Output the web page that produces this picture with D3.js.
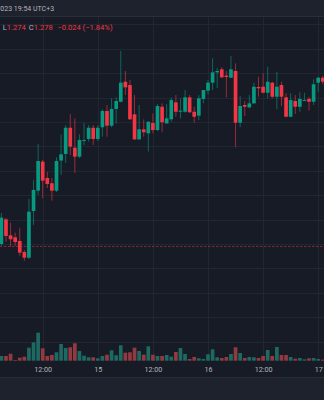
<!DOCTYPE html>
<html>
<head>
<meta charset="utf-8">
<script src="https://cdn.jsdelivr.net/npm/d3@7"></script>
<style>
  html, body { margin: 0; padding: 0; background: #1e222d; overflow: hidden; }
  svg { display: block; font-family: Roboto, "Noto Sans", sans-serif; }
</style>
</head>
<body>
<svg id="chart" width="324" height="400"></svg>
<script>
// Hourly candles, hour offset from 14 Dec 2023 00:00 (UTC+3)
const hourIndex = [3,4,5,6,7,8,9,10,11,12,13,14,15,16,17,18,19,20,21,22,23,24,25,26,27,28,29,30,31,32,33,34,35,36,37,38,39,40,41,42,43,44,45,46,47,48,49,50,51,52,53,54,55,56,57,58,59,60,61,62,63,64,65,66,67,68,69,70,71,72,73];

const open = [1.2800,1.3002,1.2871,1.2855,1.2825,1.2734,1.2688,1.3070,1.3237,1.3475,1.3341,1.3298,1.3237,1.3484,1.3538,1.3753,1.3589,1.3516,1.3644,1.3661,1.3753,1.3661,1.3757,1.3890,1.3770,1.3907,1.3966,1.4130,1.4103,1.3863,1.3658,1.3740,1.3707,1.3792,1.3734,1.3925,1.3789,1.3822,1.3961,1.3884,1.3884,1.4002,1.3884,1.3852,1.3989,1.4057,1.4122,1.4207,1.4232,1.4180,1.4163,1.4218,1.3794,1.3939,1.3920,1.3953,1.4087,1.4089,1.4040,1.4122,1.4007,1.4103,1.4002,1.3843,1.3972,1.3925,1.3975,1.3989,1.3966,1.4122,1.4163];
const high = [1.3054,1.3013,1.2975,1.2893,1.2929,1.2751,1.3169,1.3325,1.3620,1.3489,1.3390,1.3341,1.3511,1.3699,1.3775,1.3866,1.3830,1.3699,1.3792,1.3775,1.3775,1.3775,1.3907,1.3939,1.3994,1.4002,1.4382,1.4218,1.4144,1.4021,1.3939,1.3822,1.3808,1.3871,1.3948,1.3953,1.3948,1.4002,1.4021,1.3994,1.4062,1.4021,1.3925,1.4021,1.4038,1.4144,1.4322,1.4243,1.4248,1.4218,1.4341,1.4281,1.4013,1.3972,1.4021,1.4122,1.4171,1.4199,1.4253,1.4130,1.4212,1.4130,1.4035,1.4035,1.4021,1.4043,1.4040,1.4007,1.4150,1.4171,1.4177];
const low = [1.2784,1.2819,1.2778,1.2784,1.2704,1.2663,1.2677,1.2956,1.3202,1.3175,1.3259,1.3155,1.3226,1.3366,1.3464,1.3530,1.3384,1.3505,1.3611,1.3639,1.3611,1.3644,1.3680,1.3680,1.3757,1.3789,1.3961,1.4021,1.3816,1.3652,1.3652,1.3680,1.3557,1.3707,1.3726,1.3720,1.3784,1.3802,1.3843,1.3830,1.3876,1.3874,1.3794,1.3816,1.3953,1.4027,1.4062,1.4079,1.4161,1.4002,1.4161,1.3593,1.3757,1.3849,1.3912,1.3948,1.4007,1.4035,1.3994,1.3994,1.3904,1.3931,1.3839,1.3839,1.3866,1.3884,1.3972,1.3893,1.3939,1.4048,1.4109];
const close = [1.3016,1.2866,1.2839,1.2816,1.2729,1.2688,1.3065,1.3243,1.3480,1.3319,1.3292,1.3237,1.3480,1.3535,1.3753,1.3598,1.3516,1.3652,1.3652,1.3753,1.3661,1.3753,1.3890,1.3770,1.3907,1.3972,1.4122,1.4084,1.3822,1.3658,1.3740,1.3716,1.3802,1.3734,1.3931,1.3798,1.3830,1.3980,1.3884,1.3893,1.4002,1.3880,1.3843,1.3994,1.4062,1.4122,1.4207,1.4218,1.4166,1.4169,1.4232,1.3794,1.3931,1.3925,1.3953,1.4089,1.4076,1.4040,1.4130,1.4007,1.4089,1.4007,1.3843,1.3980,1.3925,1.3989,1.3980,1.3966,1.4109,1.4163,1.4130];
// Volume, thousands
const volume = [47,47,70,7,30,40,130,184,280,124,47,57,84,167,127,134,174,97,50,34,34,24,47,60,104,54,154,80,84,130,97,60,144,60,47,47,57,40,87,127,67,17,37,24,17,64,114,34,27,37,67,134,77,27,37,34,27,47,107,47,137,57,57,37,20,27,14,24,27,17,10];

// Time axis ticks (hour offsets) and their labels
const tickHours = [12, 24, 36, 48, 60, 72];
const tickLabels = ["12:00", "15", "12:00", "16", "12:00", "17"];

// Header clock and legend values
const headerText = "023 19:54 UTC+3";
const legendLow = 1.274;
const legendClose = 1.278;
const legendChange = -0.024;
const legendChangePct = -1.84;
const lastPrice = 1.278;

const W = 324, H = 400;
const paneTop = 16, paneBottom = 361, axisBottom = 377;
const colors = {
  bg: "#171b26", panel: "#1e222d", grid: "#222632", border: "#2a2e39",
  up: "#089981", down: "#f23645", volUp: "#1d6a62", volDown: "#933a41",
  text: "#b2b5be"
};

const t0 = new Date(2023, 11, 14, 0, 0);
const hourDate = h => d3.timeHour.offset(t0, h);

const candles = hourIndex.map((h, i) => ({
  time: hourDate(h), o: open[i], h: high[i], l: low[i], c: close[i], v: volume[i]
}));

const x = d3.scaleTime()
  .domain([hourDate(0), hourDate(72)])
  .range([-12.38, 318.2]);
const y = d3.scaleLinear().domain([1.20, 1.46]).range([341.6, 24.4]);
const yVol = d3.scaleLinear().domain([0, 300]).range([paneBottom - 0.3, paneBottom - 30.3]);

const barStep = x(hourDate(1)) - x(hourDate(0));
const bodyW = barStep * 0.8;

const svg = d3.select("#chart");

// Backgrounds
svg.append("rect").attr("width", W).attr("height", H).attr("fill", colors.panel);
svg.append("rect").attr("x", 0).attr("y", paneTop).attr("width", W)
  .attr("height", axisBottom - paneTop).attr("fill", colors.bg);
svg.append("line").attr("x1", 0).attr("x2", W).attr("y1", paneTop + 0.5).attr("y2", paneTop + 0.5)
  .attr("stroke", colors.border);
svg.append("line").attr("x1", 0).attr("x2", W).attr("y1", axisBottom + 0.5).attr("y2", axisBottom + 0.5)
  .attr("stroke", colors.border);

const pane = svg.append("g");
pane.append("clipPath").attr("id", "paneClip")
  .append("rect").attr("x", 0).attr("y", paneTop + 1).attr("width", W).attr("height", paneBottom - paneTop - 1);

// Grid
const priceTicks = d3.range(1.20, 1.4601, 0.02);
pane.append("g").selectAll("line").data(priceTicks).join("line")
  .attr("x1", 0).attr("x2", W)
  .attr("y1", d => Math.round(y(d)) + 0.5).attr("y2", d => Math.round(y(d)) + 0.5)
  .attr("stroke", colors.grid);
pane.append("g").selectAll("line").data(tickHours).join("line")
  .attr("x1", d => Math.round(x(hourDate(d))) + 0.5).attr("x2", d => Math.round(x(hourDate(d))) + 0.5)
  .attr("y1", paneTop + 1).attr("y2", paneBottom)
  .attr("stroke", colors.grid);

const plot = pane.append("g").attr("clip-path", "url(#paneClip)");

// Volume histogram
plot.append("g").selectAll("rect").data(candles).join("rect")
  .attr("x", d => x(d.time) - bodyW / 2)
  .attr("width", bodyW)
  .attr("y", d => yVol(d.v))
  .attr("height", d => yVol(0) - yVol(d.v))
  .attr("fill", d => d.c >= d.o ? colors.volUp : colors.volDown);

// Last price line
plot.append("line")
  .attr("x1", 0).attr("x2", W)
  .attr("y1", y(lastPrice)).attr("y2", y(lastPrice))
  .attr("stroke", colors.down).attr("stroke-opacity", 0.5)
  .attr("stroke-dasharray", "2.5,1.5");

// Candles
const cg = plot.append("g").selectAll("g").data(candles).join("g");
cg.append("line")
  .attr("x1", d => x(d.time)).attr("x2", d => x(d.time))
  .attr("y1", d => y(d.h)).attr("y2", d => y(d.l))
  .attr("stroke", d => d.c >= d.o ? colors.up : colors.down)
  .attr("stroke-opacity", 0.6)
  .attr("stroke-width", 1);
cg.append("rect")
  .attr("x", d => x(d.time) - bodyW / 2)
  .attr("width", bodyW)
  .attr("y", d => y(Math.max(d.o, d.c)))
  .attr("height", d => Math.max(1, Math.abs(y(d.o) - y(d.c))))
  .attr("fill", d => d.c >= d.o ? colors.up : colors.down);

// Time axis
const xAxis = d3.axisBottom(x)
  .tickValues(tickHours.map(hourDate))
  .tickFormat((d, i) => tickLabels[i])
  .tickSize(0).tickPadding(0);
const ax = svg.append("g").attr("transform", `translate(0,${paneBottom})`).call(xAxis);
ax.select(".domain").remove();
ax.selectAll("text")
  .attr("y", 11.3).attr("dy", null)
  .attr("fill", colors.text)
  .style("font-family", "Roboto, 'Noto Sans', sans-serif")
  .style("font-size", "7.2px");

// Header clock
svg.append("text").attr("x", 0.3).attr("y", 11)
  .attr("fill", colors.text).style("font-size", "7px").text(headerText);

// Legend: low, close and change of the latest bar
const fmt = d3.format(".3f");
const minus = s => s.replace("-", "\u2212");
const legend = svg.append("text").attr("y", 29.5).style("font-size", "7.6px");
legend.append("tspan").attr("x", 2.7).attr("fill", colors.text).text("L");
legend.append("tspan").attr("fill", colors.down).text(fmt(legendLow));
legend.append("tspan").attr("x", 28.8).attr("fill", colors.text).text("C");
legend.append("tspan").attr("fill", colors.down).text(fmt(legendClose));
legend.append("tspan").attr("x", 57.3).attr("fill", colors.down)
  .text(minus(fmt(legendChange)) + " (" + minus(d3.format(".2f")(legendChangePct)) + "%)");
</script>
</body>
</html>
